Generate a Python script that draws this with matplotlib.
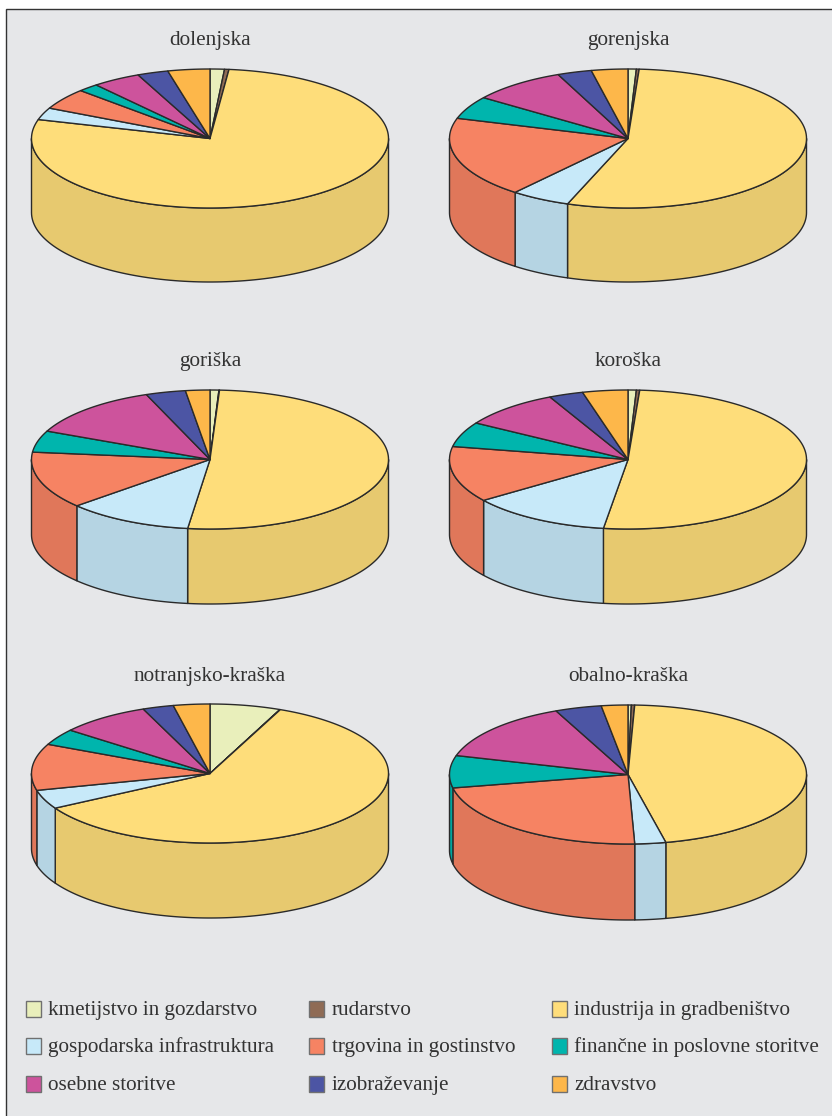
import numpy as np
import matplotlib
matplotlib.use("Agg")
import matplotlib.pyplot as plt
from matplotlib.patches import Polygon, Rectangle

plt.rcParams['font.family'] = ['Liberation Serif', 'DejaVu Serif']

categories = ["kmetijstvo in gozdarstvo", "rudarstvo", "industrija in gradbeništvo",
              "gospodarska infrastruktura", "trgovina in gostinstvo", "finančne in poslovne storitve",
              "osebne storitve", "izobraževanje", "zdravstvo"]
colors = ["#e9efbb", "#8f6b55", "#fedd7a", "#c7e9f9", "#f68363", "#00b5ad", "#cd539c", "#4c55a4", "#fdb74a"]

regions = ["dolenjska", "gorenjska", "goriška", "koroška", "notranjsko-kraška", "obalno-kraška"]
dolenjska = [1.3, 0.4, 77.7, 2.8, 4.9, 1.9, 4.4, 2.8, 3.8]
gorenjska = [0.75, 0.25, 54.5, 5.4, 18.8, 5.3, 8.6, 3.1, 3.3]
goriska = [0.8, 0.05, 51.15, 11.4, 13.3, 5.0, 12.5, 3.6, 2.2]
koroska = [0.75, 0.3, 51.15, 12.8, 13.0, 5.8, 9.0, 3.1, 4.1]
notranjsko = [6.4, 0.05, 60.25, 4.4, 10.8, 3.8, 8.2, 2.8, 3.3]
obalno = [0.3, 0.3, 46.0, 2.8, 22.5, 7.5, 14.0, 4.2, 2.4]
series = [dolenjska, gorenjska, goriska, koroska, notranjsko, obalno]

W, H = 832, 1116
fig = plt.figure(figsize=(W / 100, H / 100), dpi=100, facecolor="white")
ax = fig.add_axes([0, 0, 1, 1])
ax.set_xlim(0, W)
ax.set_ylim(H, 0)
ax.axis("off")

ax.add_patch(Rectangle((6, 8.5), W, H, fc="#e6e7e9", ec="#333333", lw=1.0, zorder=0))

EDGE = "#2a2a2a"
LW = 1.0
A, B = 178.5, 69.5
DEPTHS = [74, 74, 75, 75, 75, 76]
CENTERS = [(210, 138.5), (628, 138.5), (210, 459.5), (628, 459.5), (210, 773.5), (628, 774.5)]
TITLE_BASE = [45, 45, 366, 366, 681, 681]


def shade(c, f=0.91):
    r, g, b = matplotlib.colors.to_rgb(c)
    return (r * f, g * f, b * f)


def pt(cx, cy, t):
    return cx + A * np.sin(t), cy - B * np.cos(t)


def draw_pie(vals, cx, cy, depth):
    edges = np.cumsum([0] + list(vals)) / sum(vals) * 2 * np.pi
    # side wall, visible for the front half only
    for v0, v1, col in zip(edges[:-1], edges[1:], colors):
        t0, t1 = max(v0, np.pi / 2), min(v1, 3 * np.pi / 2)
        if t1 <= t0:
            continue
        t = np.linspace(t0, t1, 120)
        x, y = pt(cx, cy, t)
        xy = np.r_[np.c_[x, y], np.c_[x[::-1], y[::-1] + depth]]
        ax.add_patch(Polygon(xy, closed=True, fc=shade(col), ec=EDGE, lw=LW, zorder=2, joinstyle="round"))
    # top face
    for v0, v1, col in zip(edges[:-1], edges[1:], colors):
        t = np.linspace(v0, v1, max(int((v1 - v0) * 60), 3))
        x, y = pt(cx, cy, t)
        xy = np.r_[[[cx, cy]], np.c_[x, y]]
        ax.add_patch(Polygon(xy, closed=True, fc=col, ec=EDGE, lw=LW, zorder=3, joinstyle="round"))


for name, vals, (cx, cy), ty, d in zip(regions, series, CENTERS, TITLE_BASE, DEPTHS):
    draw_pie(vals, cx, cy, d)
    ax.text(cx, ty, name, ha="center", va="baseline", fontsize=15.3, color="#333333")

LEG_X = [25.5, 309, 552]
LEG_Y = [1009, 1046, 1083.5]
LEG_BASE = [1015, 1052, 1090]
for i, (lab, col) in enumerate(zip(categories, colors)):
    r, c = i // 3, i % 3
    ax.add_patch(Rectangle((LEG_X[c], LEG_Y[r] - 8), 15, 16, fc=col, ec="#707070", lw=1.0, zorder=3))
    ax.text(LEG_X[c] + 22.5, LEG_BASE[r], lab, ha="left", va="baseline", fontsize=15.2, color="#333333")

fig.savefig("out.png", dpi=100, facecolor="white")
